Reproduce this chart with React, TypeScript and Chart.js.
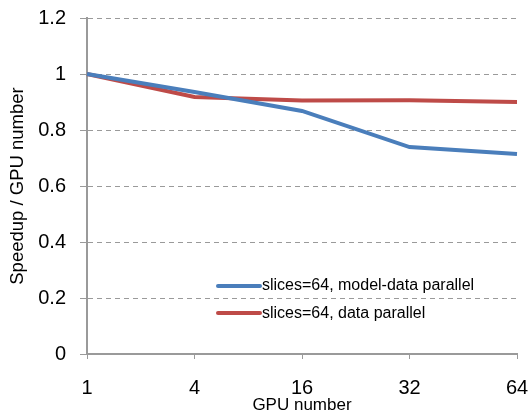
import React, { useEffect, useRef } from "react";
import { Chart, registerables } from "chart.js";

Chart.register(...registerables);

const categories = ["1", "4", "16", "32", "64"];
const modelDataParallel = [1.0, 0.936, 0.868, 0.739, 0.714];
const dataParallel = [1.0, 0.918, 0.905, 0.906, 0.9];
const seriesNames = ["slices=64, model-data parallel", "slices=64, data parallel"];
const seriesColors = ["#4A7EBB", "#BE4B48"];

const FONT = "'Liberation Sans', Arial, sans-serif";

const insideLegend = {
  id: "insideLegend",
  afterDatasetsDraw(chart: any) {
    const ctx = chart.ctx;
    const x0 = chart.chartArea.left + 131;
    const ys = [chart.scales.y.getPixelForValue(0.243), chart.scales.y.getPixelForValue(0.146)];
    ctx.save();
    chart.data.datasets.forEach((ds: any, i: number) => {
      const y = ys[i];
      ctx.strokeStyle = ds.borderColor;
      ctx.lineWidth = 4;
      ctx.lineCap = "round";
      ctx.beginPath();
      ctx.moveTo(x0, y);
      ctx.lineTo(x0 + 42, y);
      ctx.stroke();
      ctx.fillStyle = "#000";
      ctx.font = `16px ${FONT}`;
      ctx.textBaseline = "middle";
      ctx.textAlign = "left";
      ctx.fillText(ds.label, x0 + 44, y);
    });
    ctx.restore();
  },
};

export default function App() {
  const ref = useRef<HTMLCanvasElement>(null);
  useEffect(() => {
    if (!ref.current) return;
    const chart = new Chart(ref.current, {
      type: "line",
      data: {
        labels: categories,
        datasets: [
          {
            label: seriesNames[0],
            data: modelDataParallel,
            borderColor: seriesColors[0],
            backgroundColor: seriesColors[0],
            borderWidth: 4,
            pointRadius: 0,
            tension: 0,
          },
          {
            label: seriesNames[1],
            data: dataParallel,
            borderColor: seriesColors[1],
            backgroundColor: seriesColors[1],
            borderWidth: 4,
            pointRadius: 0,
            tension: 0,
          },
        ],
      },
      options: {
        animation: false,
        responsive: false,
        maintainAspectRatio: false,
        layout: { padding: { left: 0, right: 13, top: 18, bottom: 0 } },
        plugins: {
          legend: { display: false },
          tooltip: { enabled: false },
        },
        scales: {
          x: {
            offset: false,
            afterFit: (s: any) => {
              s.height = 57;
              s.paddingLeft = 0;
              s.paddingRight = 13;
            },
            grid: {
              drawOnChartArea: false,
              drawTicks: true,
              tickLength: 5,
              color: "#9a9a9a",
              lineWidth: 1,
            },
            border: { color: "#9a9a9a", width: 2 },
            ticks: {
              color: "#000",
              font: { family: FONT, size: 20 },
              padding: 17,
              maxRotation: 0,
            },
            title: {
              display: true,
              text: "GPU number",
              color: "#000",
              font: { family: FONT, size: 17, lineHeight: 1 },
              padding: { top: 0, bottom: -3 },
            },
          },
          y: {
            min: 0,
            max: 1.2,
            afterFit: (s: any) => {
              s.width = 87;
              s.paddingTop = 0;
              s.paddingBottom = 0;
            },
            ticks: {
              stepSize: 0.2,
              color: "#000",
              font: { family: FONT, size: 20 },
              padding: 14,
              callback: (v: any) => String(Math.round(Number(v) * 10) / 10),
            },
            grid: {
              color: "#9a9a9a",
              lineWidth: 1,
              tickLength: 7,
              tickColor: "#9a9a9a",
            },
            border: { color: "#9a9a9a", width: 2, dash: [5, 4] },
            title: {
              display: true,
              text: "Speedup / GPU number",
              color: "#000",
              font: { family: FONT, size: 18.5 },
              padding: { top: 7, bottom: 0 },
            },
          },
        },
      },
      plugins: [insideLegend],
    });
    return () => chart.destroy();
  }, []);
  return (
    <div style={{ position: "fixed", left: 0, top: 0, width: 530, height: 411, background: "#fff" }}>
      <canvas ref={ref} width={530} height={411} style={{ width: 530, height: 411 }} />
    </div>
  );
}
